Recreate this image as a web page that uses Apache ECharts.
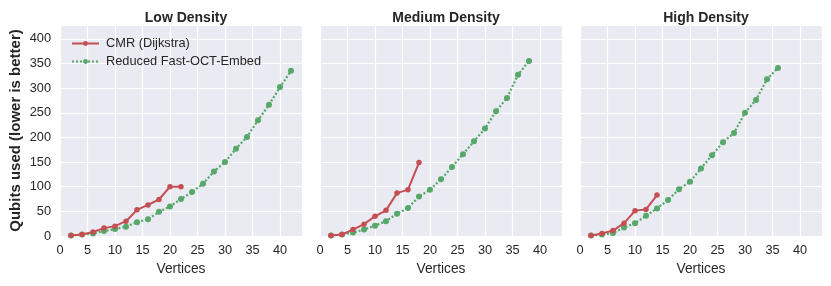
<!DOCTYPE html>
<html>
<head>
<meta charset="utf-8">
<script src="https://cdn.jsdelivr.net/npm/echarts@6/dist/echarts.min.js"></script>
<style>
html,body{margin:0;padding:0;background:#fff;}
#chart{width:831px;height:286px;}
</style>
</head>
<body>
<div id="chart"></div>
<script>
const panelTitles = ['Low Density', 'Medium Density', 'High Density'];
const seriesNames = ['CMR (Dijkstra)', 'Reduced Fast-OCT-Embed'];
const xTicks = [0, 5, 10, 15, 20, 25, 30, 35, 40];
const yTicks = [0, 50, 100, 150, 200, 250, 300, 350, 400];

const lowCmrX = [2, 4, 6, 8, 10, 12, 14, 16, 18, 20, 22];
const lowCmrY = [1, 3, 8, 16, 20, 30, 53, 63, 74, 100, 100];
const lowOctX = [2, 4, 6, 8, 10, 12, 14, 16, 18, 20, 22, 24, 26, 28, 30, 32, 34, 36, 38, 40, 42];
const lowOctY = [1, 3, 5, 10, 14, 19, 28, 34, 49, 60, 75, 89, 106, 131, 150, 177, 201, 235, 266, 302, 335];

const medCmrX = [2, 4, 6, 8, 10, 12, 14, 16, 18];
const medCmrY = [1, 3, 13, 24, 40, 52, 87, 94, 149];
const medOctX = [2, 4, 6, 8, 10, 12, 14, 16, 18, 20, 22, 24, 26, 28, 30, 32, 34, 36, 38];
const medOctY = [1, 3, 7, 13, 21, 30, 45, 57, 80, 94, 115, 140, 166, 192, 218, 253, 280, 327, 355];

const highCmrX = [2, 4, 6, 8, 10, 12, 14];
const highCmrY = [1, 5, 11, 26, 51, 54, 83];
const highOctX = [2, 4, 6, 8, 10, 12, 14, 16, 18, 20, 22, 24, 26, 28, 30, 32, 34, 36];
const highOctY = [1, 3, 6, 17, 26, 41, 56, 73, 95, 110, 137, 164, 190, 209, 250, 276, 318, 341];

const panels = [
  [lowCmrX, lowCmrY, lowOctX, lowOctY],
  [medCmrX, medCmrY, medOctX, medOctY],
  [highCmrX, highCmrY, highOctX, highOctY]
];

const RED = '#C44E52', GREEN = '#55A868';
const FONT = '"Liberation Sans", Arial, sans-serif';
const lefts = [60, 320, 580];
const W = 242, TOP = 25, H = 211;

const pair = (xs, ys) => xs.map((x, i) => [x, ys[i]]);

const grids = [], xAxes = [], yAxes = [], series = [], titles = [];
for (let i = 0; i < 3; i++) {
  grids.push({left: lefts[i], top: TOP, width: W, height: H, show: true, backgroundColor: '#EAEAF2', borderWidth: 0});
  titles.push({text: panelTitles[i], left: lefts[i] + W / 2, top: 6, textAlign: 'center',
    textStyle: {fontFamily: FONT, fontSize: 14, fontWeight: 'bold', color: '#262626'}});
  xAxes.push({
    type: 'value', gridIndex: i, min: 0, max: 44, interval: 5,
    name: 'Vertices', nameLocation: 'middle', nameGap: 25,
    nameTextStyle: {fontFamily: FONT, fontSize: 13.75, color: '#262626'},
    axisLine: {show: false}, axisTick: {show: false},
    axisLabel: {fontFamily: FONT, fontSize: 12.8, color: '#262626', margin: 8,
      formatter: v => xTicks.includes(v) ? String(v) : ''},
    splitLine: {show: true, lineStyle: {color: '#ffffff', width: 1.2}}
  });
  yAxes.push({
    type: 'value', gridIndex: i, min: 0, max: 428, interval: 50,
    name: i === 0 ? 'Qubits used (lower is better)' : '', nameLocation: 'middle', nameGap: 37,
    nameTextStyle: {fontFamily: FONT, fontSize: 15, fontWeight: 'bold', color: '#262626'},
    axisLine: {show: false}, axisTick: {show: false},
    axisLabel: {show: i === 0, fontFamily: FONT, fontSize: 12.8, color: '#262626', margin: 9,
      formatter: v => yTicks.includes(v) ? String(v) : ''},
    splitLine: {show: true, lineStyle: {color: '#ffffff', width: 1.2}}
  });
  const [cx, cy, ox, oy] = panels[i];
  series.push({
    name: seriesNames[0], type: 'line', xAxisIndex: i, yAxisIndex: i,
    data: pair(cx, cy), symbol: 'circle', symbolSize: 5.5, showSymbol: true,
    lineStyle: {color: RED, width: 2}, itemStyle: {color: RED}, z: 3, animation: false
  });
  series.push({
    name: seriesNames[1], type: 'line', xAxisIndex: i, yAxisIndex: i,
    data: pair(ox, oy), symbol: 'circle', symbolSize: 6, showSymbol: true,
    lineStyle: {color: GREEN, width: 2.2, type: [2, 2]}, itemStyle: {color: GREEN}, z: 2, animation: false
  });
}

const chart = echarts.init(document.getElementById('chart'), null, {renderer: 'canvas'});
chart.setOption({
  animation: false,
  title: titles,
  grid: grids,
  xAxis: xAxes,
  yAxis: yAxes,
  legend: {
    data: seriesNames, orient: 'vertical', left: 66, top: 32,
    itemWidth: 27, itemHeight: 6, itemGap: 5,
    textStyle: {fontFamily: FONT, fontSize: 12.8, color: '#262626', padding: [0, 0, 0, 2]}
  },
  series: series
});
</script>
</body>
</html>
